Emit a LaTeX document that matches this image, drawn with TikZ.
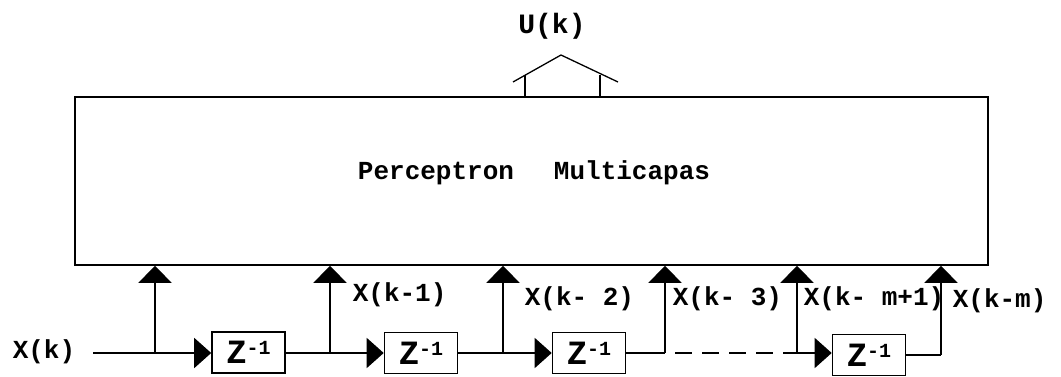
\documentclass[tikz,border=0pt]{standalone}
\usepackage{fontspec}
\setmonofont{Liberation Mono}
\usetikzlibrary{arrows.meta}
\newcommand{\zinv}{Z\raisebox{9pt}{\fontsize{20}{20}\selectfont -1}}
\tikzset{
  tap/.style={-{Triangle[width=33pt,length=17pt]}},
  feed/.style={-{Triangle[width=30pt,length=17pt]}},
  delaybox/.style={draw, minimum width=73pt, minimum height=41pt, inner sep=0pt,
    font=\ttfamily\bfseries\fontsize{34}{34}\selectfont},
  sig/.style={inner sep=0pt, font=\ttfamily\bfseries\fontsize{26}{26}\selectfont},
}
\begin{document}
\begin{tikzpicture}[x=1pt, y=-1pt, line width=1.6pt]
    \useasboundingbox (0,0) rectangle (1061,377);

    % Perceptron block
    \node[draw, minimum width=913pt, minimum height=168pt, inner sep=0pt] (mlp) at (531.5,181) {};
    \node[sig, anchor=base] (name) at (534,180)
        {Perceptron\hspace{40pt}Multicapas};

    % Output
    \coordinate (outL) at (525,75);
    \coordinate (outR) at (600,75);
    \draw[line width=1.3pt] (outL |- mlp.north) -- (outL);
    \draw[line width=1.3pt] (outR |- mlp.north) -- (outR);
    \draw[line width=1.3pt] (513,82) -- (561,55) -- (618,82);
    \node[sig, font=\ttfamily\bfseries\fontsize{28}{28}\selectfont] (uk) at (552,26) {U(k)};

    % Delay line
    \node[sig, anchor=west] (xk) at (12,352) {X(k)};
    \node[delaybox] (z1) at (248.5,352.5) {\zinv};
    \node[delaybox] (z2) at (421,353) {\zinv};
    \node[delaybox] (z3) at (589,353) {\zinv};
    \node[delaybox] (z4) at (869,355) {\zinv};

    \coordinate (t0) at (155,353);
    \coordinate (t1) at (330,353);
    \coordinate (t2) at (503,353);
    \coordinate (t3) at (665,353);
    \coordinate (t4) at (797,353);
    \coordinate (t5) at (941,355);

    \draw[feed] (93,353) -- (z1.west |- t0);
    \draw[feed] (z1.east |- t1) -- (z2.west);
    \draw[feed] (z2.east) -- (z3.west);
    \draw (z3.east) -- (t3);
    \draw[dash pattern=on 17pt off 10pt, dash phase=17pt] (t3) -- (t4);
    \draw[feed] (t4) -- (z4.west |- t4);
    \draw (z4.east) -- (t5);

    % Taps into the perceptron
    \foreach \t in {t0,t1,t2,t3,t4,t5}
        \draw[tap] (\t) -- (\t |- mlp.south);

    % Tap labels
    \node[sig, anchor=west] (x1) at (352,295) {X(k-1)};
    \node[sig, anchor=west] (x2) at (524,299) {X(k- 2)};
    \node[sig, anchor=west] (x3) at (672,299) {X(k- 3)};
    \node[sig, anchor=west] (x4) at (803,299) {X(k- m+1)};
    \node[sig, anchor=west] (x5) at (952,301) {X(k-m)};
\end{tikzpicture}
\end{document}
